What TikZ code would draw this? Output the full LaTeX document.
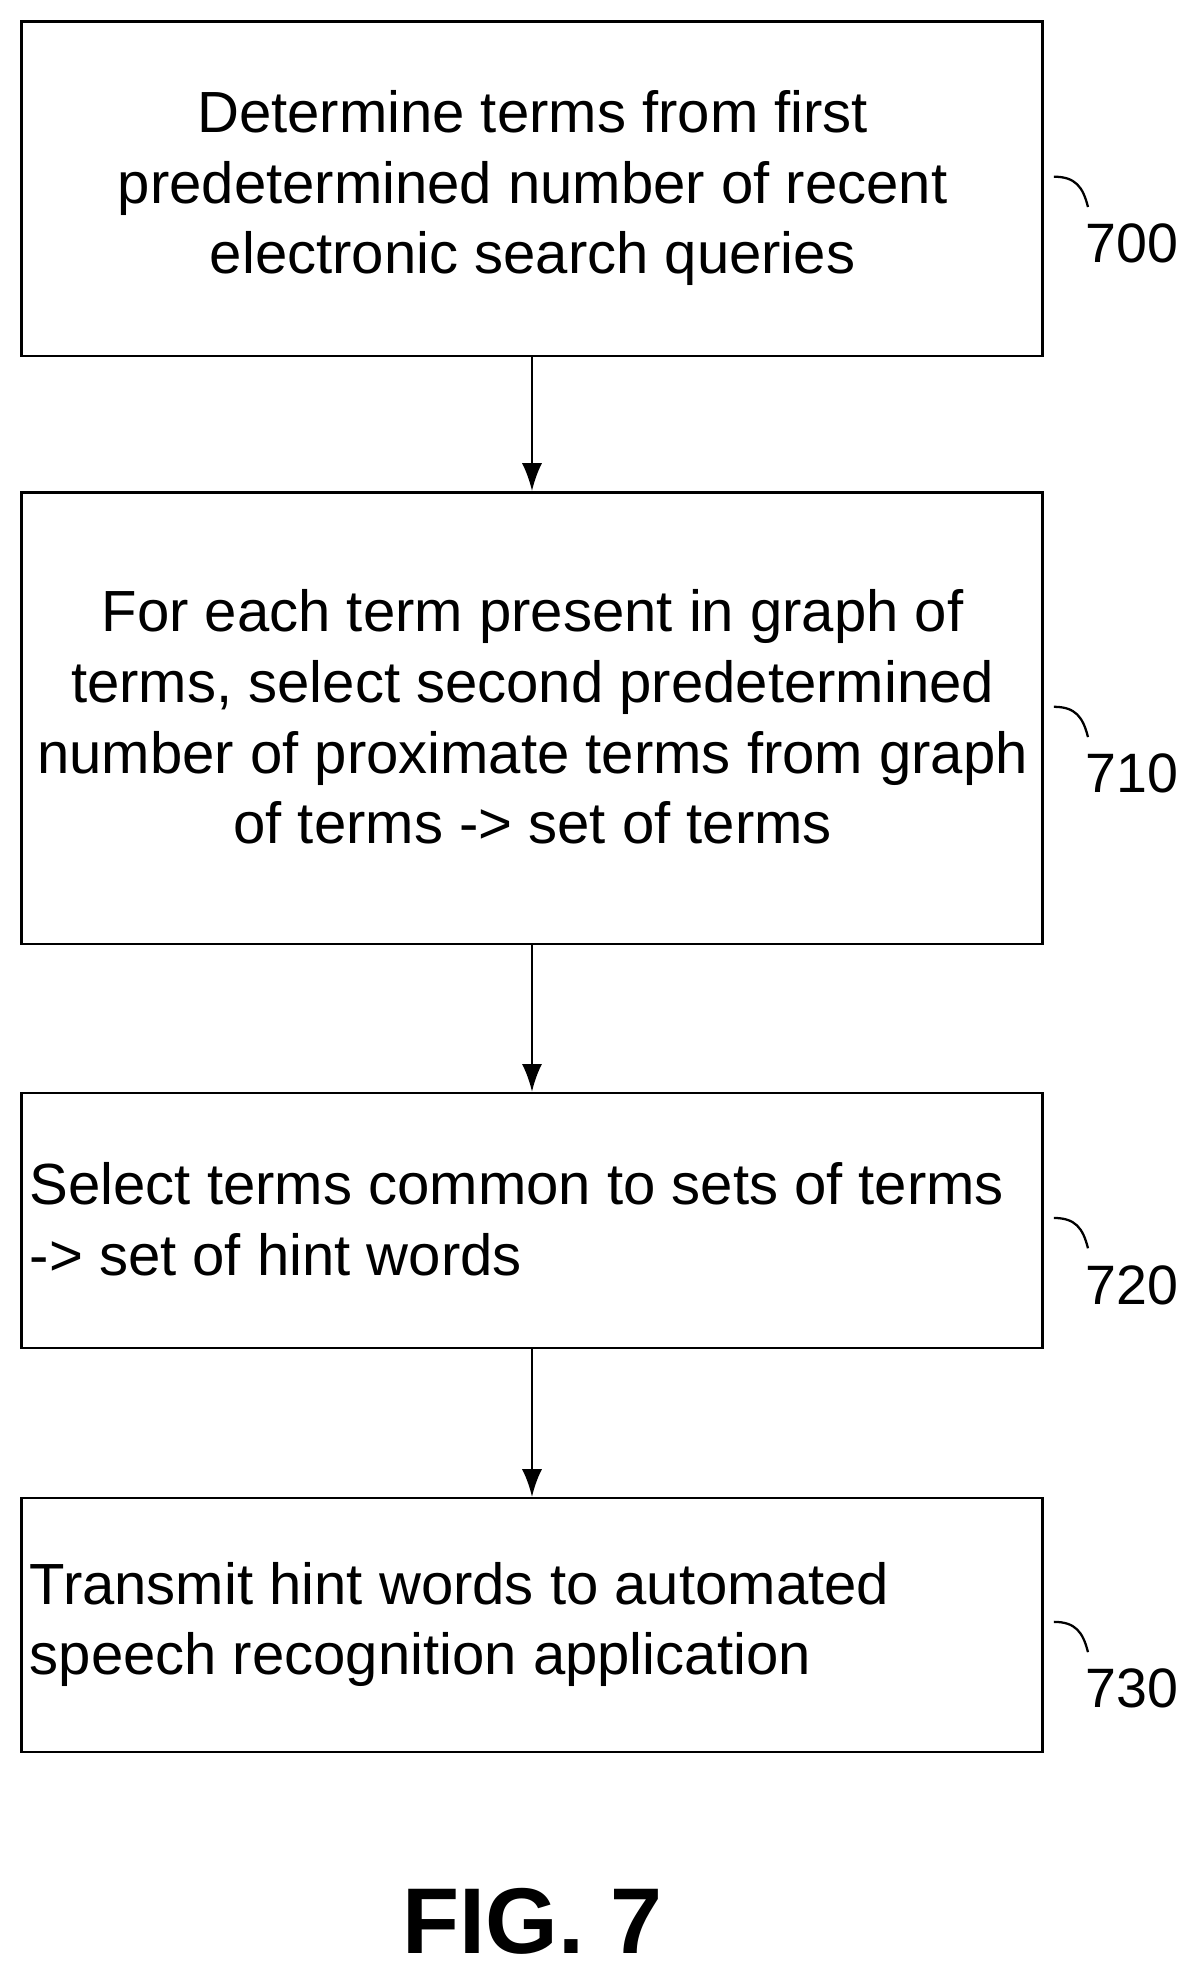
\documentclass[tikz,border=0pt]{standalone}
\usepackage{fontspec}
\setmainfont{Liberation Sans}
\usetikzlibrary{positioning,arrows.meta}
\begin{document}
\begin{tikzpicture}[x=1pt,y=-1pt,
  stepbox/.style={draw, line width=2pt, minimum width=809pt, inner sep=0pt},
  ctext/.style={align=center, font=\fontsize{46}{56}\selectfont},
  ltext/.style={align=left, font=\fontsize{46}{56}\selectfont},
  flow/.style={-{Latex[length=22pt,width=16pt]}, line width=2pt},
  hook/.style={line width=1.8pt},
  reflabel/.style={font=\fontsize{44}{48}\selectfont}]
  \useasboundingbox (0,0) rectangle (950,1564);
  % boxes
  \node[stepbox, minimum height=265pt] (s700) at (421.5,149.5) {};
  \node[stepbox, minimum height=358pt] (s710) at (421.5,569) {};
  \node[stepbox, minimum height=202pt] (s720) at (421.5,967) {};
  \node[stepbox, minimum height=201pt] (s730) at (421.5,1287.5) {};
  % texts
  \node[ctext] at (422,149) {Determine terms from first\\predetermined number of recent\\electronic search queries};
  \node[ctext] at (422,568) {For each term present in graph of\\terms, select second predetermined\\number of proximate terms from graph\\of terms -> set of terms};
  \node[ltext, anchor=west] at (20,966) {Select terms common to sets of terms\\-> set of hint words};
  \node[ltext, anchor=west] at (20,1287) {Transmit hint words to automated\\speech recognition application};
  % arrows
  \draw[flow] (s700.south) -- (s710.north);
  \draw[flow] (s710.south) -- (s720.north);
  \draw[flow] (s720.south) -- (s730.north);
  % reference numbers
  \foreach \nm/\y in {700/140,710/560,720/965,730/1285}{
    \draw[hook] (835,\y) .. controls (852,\y) and (858,{\y+8}) .. (862,{\y+24});
    \node[reflabel] (r\nm) at (897,{\y+53}) {\nm};
  }
  \node[font=\bfseries\fontsize{74}{80}\selectfont] (fig) at (422,1522) {FIG. 7};
\end{tikzpicture}
\end{document}
